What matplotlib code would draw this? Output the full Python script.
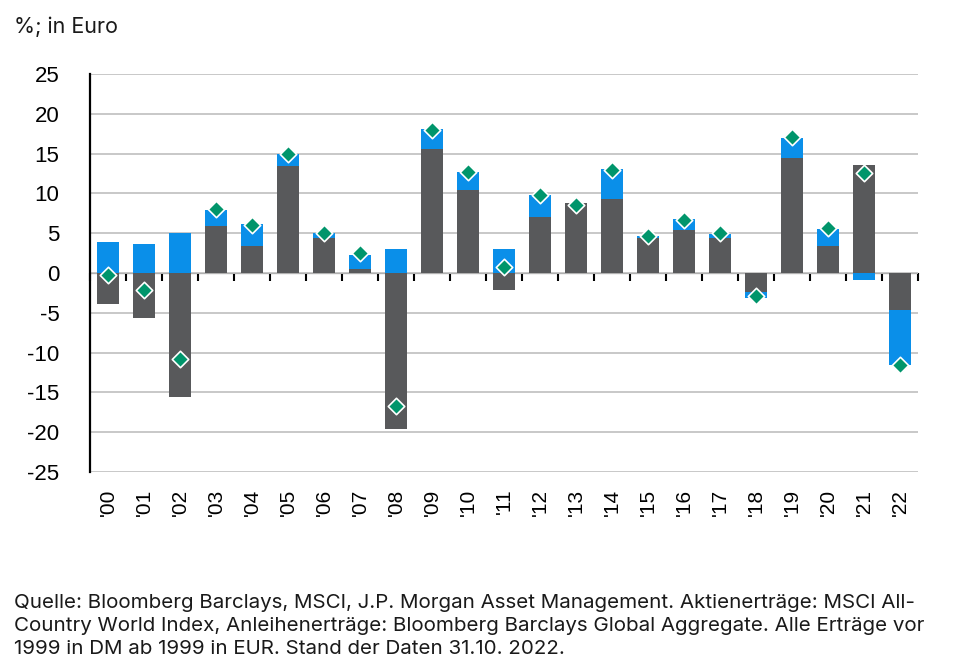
import numpy as np
import matplotlib
matplotlib.use('Agg')
import matplotlib.pyplot as plt

plt.rcParams['font.family'] = 'Liberation Sans'
plt.rcParams['axes.unicode_minus'] = False

years = ["'00", "'01", "'02", "'03", "'04", "'05", "'06", "'07", "'08", "'09", "'10", "'11",
         "'12", "'13", "'14", "'15", "'16", "'17", "'18", "'19", "'20", "'21", "'22"]
# equity contribution (dark grey), bond contribution (blue), total (diamond)
equity = [-3.9, -5.7, -15.6, 5.9, 3.4, 13.4, 4.4, 0.5, -19.6, 15.6, 10.4, -2.1,
          7.0, 8.8, 9.3, 4.4, 5.4, 4.4, -2.4, 14.5, 3.4, 13.6, -4.7]
bonds = [3.9, 3.7, 5.0, 2.0, 2.8, 1.5, 0.6, 1.8, 3.0, 2.5, 2.3, 3.0,
         2.8, 0.0, 3.8, 0.2, 1.4, 0.5, -0.7, 2.5, 2.1, -0.9, -6.9]
total = [-0.2, -2.1, -10.8, 8.0, 6.0, 15.0, 5.0, 2.5, -16.7, 18.0, 12.7, 0.8,
         9.8, 8.5, 13.0, 4.7, 6.7, 5.0, -2.9, 17.1, 5.6, 12.6, -11.5]
yticks = [25, 20, 15, 10, 5, 0, -5, -10, -15, -20, -25]

grey = '#58595b'
blue = '#0a8fe9'
green = '#00956b'

eq = np.array(equity)
bd = np.array(bonds)
x = np.arange(len(years))
# bonds stack on top of equity when same sign, otherwise start from zero
bond_bottom = np.where(np.sign(eq) == np.sign(bd), eq, 0)

fig = plt.figure(figsize=(9.6, 6.67), dpi=100)
ax = fig.add_axes([0.09375, 0.2924, 0.8625, 0.5966])

ax.bar(x, eq, width=0.63, color=grey, zorder=2)
ax.bar(x, bd, bottom=bond_bottom, width=0.63, color=blue, zorder=2)
ax.scatter(x, total, marker='D', s=70, color=green, edgecolor='white', linewidth=1.2, zorder=4)

ax.set_xlim(-0.5, len(years) - 0.5)
ax.set_ylim(-25, 25)
ax.set_yticks(yticks)
ax.grid(axis='y', color='#c4c4c4', lw=1.3, zorder=0)
ax.set_axisbelow(True)

for s in ['top', 'right', 'bottom']:
    ax.spines[s].set_visible(False)
ax.spines['left'].set_linewidth(1.6)
ax.spines['left'].set_color('black')

ax.tick_params(axis='y', length=0, pad=22, labelsize=16)
ax.set_xticks(x)
ax.set_xticklabels(years, rotation=90, fontsize=15, va='top')
ax.tick_params(axis='x', length=0, pad=12)

# zero line with category separator ticks
zero = ax.secondary_xaxis(0.5)
zero.set_xticks(np.arange(len(years) + 1) - 0.5)
zero.set_xticklabels([])
zero.tick_params(axis='x', direction='in', length=6, width=1.5, color='black')
zero.spines['bottom'].set_linewidth(1.6)
zero.spines['bottom'].set_zorder(3)

fig.text(0.0146, 0.975, '%; in Euro', fontsize=15.5, family='Inter', va='top', color='#1a1a1a')
fig.text(0.0146, 0.109,
         'Quelle: Bloomberg Barclays, MSCI, J.P. Morgan Asset Management. Aktienerträge: MSCI All-\n'
         'Country World Index, Anleihenerträge: Bloomberg Barclays Global Aggregate. Alle Erträge vor\n'
         '1999 in DM ab 1999 in EUR. Stand der Daten 31.10. 2022.',
         fontsize=14.8, family='Inter', va='top', linespacing=1.35, color='#1a1a1a')

fig.savefig('out.png', dpi=100)
